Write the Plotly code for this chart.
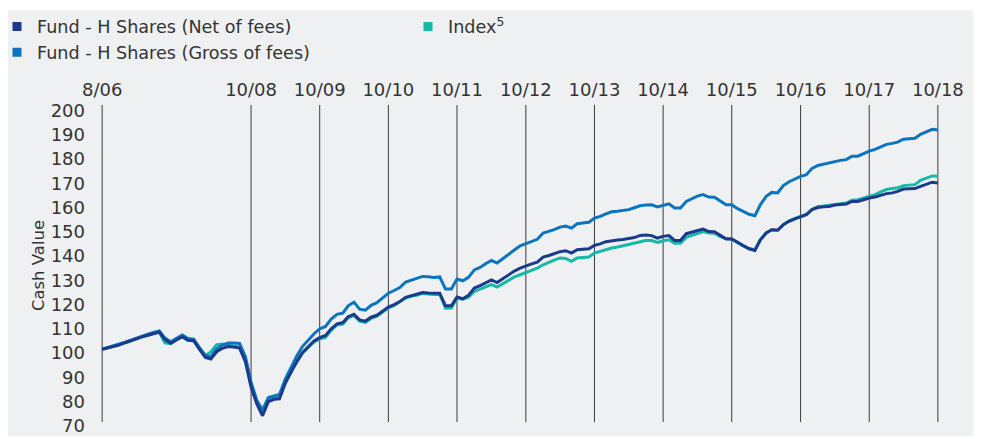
import pandas as pd
import plotly.graph_objects as go

# ---- data (monthly, Aug 2006 .. Oct 2018) ----
dates = pd.date_range("2006-08-01", "2018-10-01", freq="MS")

net_fees = [
    101.6, 102.2, 102.8, 103.4, 104.3, 105.2, 106.0, 106.7, 107.4, 108.1,
    108.7, 105.6, 104.1, 105.5, 106.8, 105.3, 105.1, 101.5, 98.2, 97.6,
    100.6, 102.0, 102.7, 102.5, 102.1, 96.5, 86.0, 79.0, 74.2, 80.0,
    81.0, 81.2, 87.6, 92.0, 96.5, 100.2, 102.7, 105.0, 106.4, 107.3,
    110.0, 112.1, 112.6, 115.0, 116.0, 113.7, 113.2, 114.8, 115.6, 117.2,
    119.0, 120.0, 121.3, 123.0, 123.8, 124.2, 125.0, 124.8, 124.6, 124.7,
    119.5, 119.5, 123.1, 122.4, 123.8, 126.8, 127.8, 129.0, 130.2, 129.1,
    130.7, 132.3, 133.8, 135.0, 136.0, 136.8, 137.5, 139.6, 140.2, 140.9,
    141.8, 142.2, 141.2, 142.6, 142.8, 143.0, 144.4, 145.0, 145.9, 146.4,
    146.6, 146.8, 147.1, 147.6, 148.5, 148.7, 148.4, 147.4, 148.1, 148.4,
    146.4, 146.4, 149.2, 149.7, 150.5, 151.1, 150.1, 150.0, 148.5, 147.0,
    147.0, 145.5, 144.3, 143.0, 142.3, 146.7, 149.5, 150.8, 150.6, 152.9,
    154.3, 155.3, 156.3, 157.0, 159.1, 160.0, 160.3, 160.4, 161.0, 161.2,
    161.4, 162.5, 162.5, 163.2, 163.9, 164.3, 165.0, 165.7, 166.0, 166.6,
    167.6, 167.7, 167.8, 168.7, 169.7, 170.4, 170.1,
]

gross_fees = [
    101.6, 102.3, 102.9, 103.6, 104.5, 105.4, 106.3, 107.0, 107.8, 108.5,
    109.1, 106.2, 104.7, 106.1, 107.5, 106.0, 105.8, 102.3, 99.0, 98.5,
    101.8, 103.3, 104.2, 104.2, 104.0, 98.5, 88.0, 80.5, 76.6, 81.7,
    82.5, 83.0, 89.3, 94.0, 98.8, 102.7, 105.5, 108.0, 110.0, 111.0,
    114.0, 116.0, 116.5, 119.5, 121.0, 118.1, 117.7, 119.7, 120.8, 122.7,
    124.7, 125.8, 127.0, 129.3, 130.2, 130.7, 131.6, 131.5, 131.2, 131.4,
    126.4, 126.4, 130.5, 129.8, 131.2, 134.3, 135.3, 136.8, 138.2, 137.1,
    139.0, 140.7, 142.5, 144.2, 145.1, 146.0, 146.9, 149.5, 150.2, 150.9,
    151.9, 152.3, 151.5, 153.3, 153.6, 153.9, 155.6, 156.3, 157.4, 158.2,
    158.4, 158.7, 159.1, 159.9, 160.7, 161.0, 161.1, 160.2, 160.8, 161.5,
    159.8, 159.8, 162.5, 163.5, 164.7, 165.3, 164.3, 164.2, 162.6, 161.1,
    161.1, 159.5, 158.4, 157.2, 156.6, 161.1, 164.6, 166.2, 166.0, 169.0,
    170.6, 171.7, 172.8, 173.5, 176.1, 177.3, 177.9, 178.3, 179.1, 179.4,
    179.7, 181.1, 181.1, 182.3, 183.2, 183.9, 185.0, 186.0, 186.4, 186.9,
    188.1, 188.3, 188.5, 190.1, 191.1, 192.2, 191.9,
]

index_vals = [
    101.6, 102.2, 102.8, 103.4, 104.3, 105.2, 106.0, 106.7, 107.4, 108.1,
    108.7, 104.2, 103.9, 105.5, 106.8, 105.3, 105.1, 101.8, 99.0, 100.5,
    103.5, 103.8, 103.4, 103.0, 102.5, 97.0, 86.5, 79.5, 75.0, 80.8,
    81.8, 82.0, 88.2, 92.5, 96.5, 100.0, 102.4, 104.6, 105.9, 106.5,
    109.5, 111.6, 112.0, 114.5, 115.5, 113.2, 112.7, 114.3, 115.2, 116.8,
    118.6, 119.7, 121.0, 122.7, 123.5, 123.8, 124.6, 124.4, 124.2, 124.3,
    118.5, 118.6, 122.7, 122.2, 123.0, 125.4, 126.3, 127.3, 128.2, 127.2,
    128.7, 130.1, 131.4, 132.3, 133.2, 134.0, 135.0, 136.4, 137.5, 138.3,
    139.2, 139.0, 137.8, 139.2, 139.4, 139.6, 141.2, 141.9, 142.7, 143.3,
    143.7, 144.2, 144.6, 145.4, 146.0, 146.4, 146.4, 145.6, 146.3, 146.7,
    145.3, 145.3, 147.7, 148.4, 149.5, 150.1, 149.5, 149.4, 148.0, 147.2,
    147.0, 145.5, 144.2, 143.1, 142.6, 146.7, 149.5, 150.8, 150.6, 152.9,
    154.5, 155.5, 156.5, 157.2, 159.3, 160.4, 160.6, 160.8, 161.3, 161.5,
    161.8, 163.0, 163.2, 163.8, 164.6, 165.3, 166.4, 167.4, 167.8, 168.1,
    169.0, 169.1, 169.4, 171.2, 172.0, 173.0, 172.9,
]

tick_dates = ["2006-08-01", "2008-10-01", "2009-10-01", "2010-10-01", "2011-10-01",
              "2012-10-01", "2013-10-01", "2014-10-01", "2015-10-01", "2016-10-01",
              "2017-10-01", "2018-10-01"]
tick_labels = ["8/06", "10/08", "10/09", "10/10", "10/11", "10/12", "10/13",
               "10/14", "10/15", "10/16", "10/17", "10/18"]
y_ticks = list(range(70, 201, 10))

series_names = ["Fund - H Shares (Net of fees)", "Index<sup>5</sup>", "Fund - H Shares (Gross of fees)"]

# ---- styling ----
C_NET = "#1b3a8c"
C_GROSS = "#0a74bf"
C_INDEX = "#17b8a6"
BG = "#eff0f2"
TXT = "#333333"
FONT = "DejaVu Sans"

# plot-area geometry (figure pixels; the page adds an 8px body margin)
L, T, PW, PH = 93, 97, 838, 321


def px_x(p):
    return (p - L) / PW


def px_y(p):
    return (T + PH - p) / PH


fig = go.Figure()

# lines (index underneath, net on top)
fig.add_trace(go.Scatter(x=dates, y=index_vals, mode="lines", line=dict(color=C_INDEX, width=3),
                         showlegend=False, name=series_names[1]))
fig.add_trace(go.Scatter(x=dates, y=gross_fees, mode="lines", line=dict(color=C_GROSS, width=3),
                         showlegend=False, name=series_names[2]))
fig.add_trace(go.Scatter(x=dates, y=net_fees, mode="lines", line=dict(color=C_NET, width=3),
                         showlegend=False, name=series_names[0]))

# legend entries with square swatches
for name, col, rank in [(series_names[0], C_NET, 1), (series_names[1], C_INDEX, 2),
                        (series_names[2], C_GROSS, 3)]:
    fig.add_trace(go.Scatter(x=[None], y=[None], mode="markers", name=name, legendrank=rank,
                             marker=dict(symbol="square", size=9, color=col)))

# grey panel (drawn first, below everything)
fig.add_shape(type="rect", xref="paper", yref="paper",
              x0=px_x(0), x1=px_x(971), y0=px_y(428), y1=px_y(2),
              fillcolor=BG, line=dict(width=0), layer="below")

# vertical reference lines at tick dates
for d in tick_dates:
    fig.add_shape(type="line", xref="x", yref="paper", x0=d, x1=d, y0=px_y(414), y1=1,
                  line=dict(color="#3a3a3a", width=1), layer="below")

fig.update_layout(
    width=981, height=439,
    margin=dict(l=L, r=981 - L - PW, t=T, b=439 - T - PH, autoexpand=False),
    paper_bgcolor="white", plot_bgcolor="rgba(0,0,0,0)",
    font=dict(family=FONT, color=TXT, size=17),
    showlegend=True,
    legend=dict(orientation="h", x=px_x(-11), y=px_y(0.5),
                xanchor="left", yanchor="top", entrywidth=366, entrywidthmode="pixels",
                font=dict(size=17.6, color=TXT), bgcolor="rgba(0,0,0,0)",
                itemclick=False, itemdoubleclick=False),
    xaxis=dict(side="top", type="date", range=["2006-07-26", "2018-10-07"],
               tickvals=tick_dates, ticktext=tick_labels, showgrid=False, zeroline=False,
               showline=False, ticks="", tickfont=dict(size=18), ticklabelstandoff=4,
               automargin=False),
    yaxis=dict(range=[70, 202.2], tickvals=y_ticks, showgrid=False, zeroline=False,
               showline=False, ticks="", tickfont=dict(size=18), ticklabelstandoff=15,
               automargin=False,
               title=dict(text="Cash Value", font=dict(size=16.5), standoff=1)),
)

fig.write_html("out.html")
